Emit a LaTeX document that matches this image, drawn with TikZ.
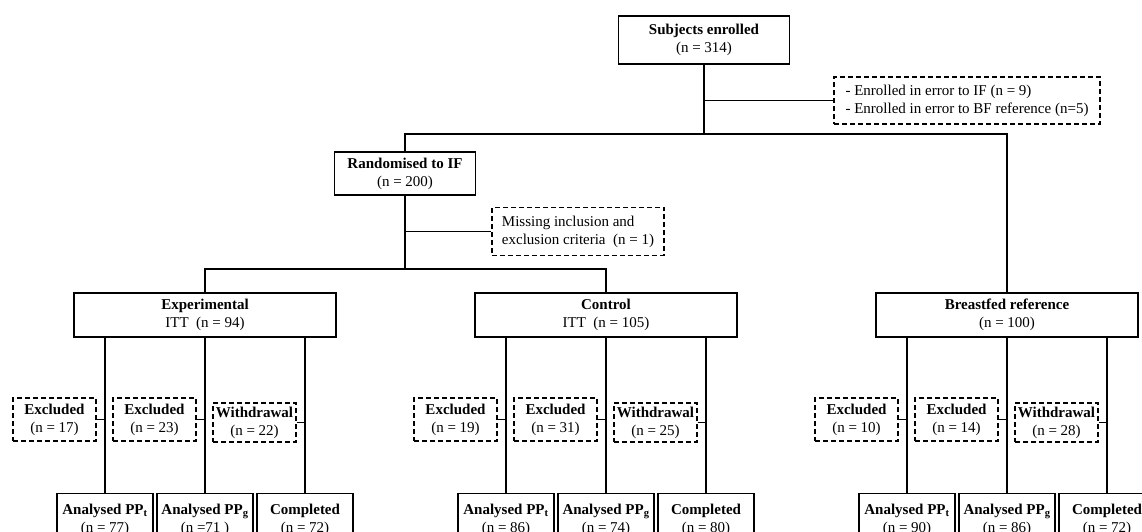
\documentclass[tikz,border=0pt]{standalone}
\usepackage{fontspec}
\setmainfont{Liberation Serif}
\usetikzlibrary{positioning}

\tikzset{
  box/.style={draw, line width=1.3pt, align=center, inner sep=1pt},
  dbox/.style={draw, dashed, dash pattern=on 5pt off 3pt, line width=1.3pt, align=center, inner sep=0pt, minimum width=83pt, minimum height=43pt},
  endbox/.style={box, anchor=north, minimum width=96pt, minimum height=52pt},
  link/.style={line width=1.8pt},
}
\newcommand{\PPt}{PP\textsubscript{t}}
\newcommand{\PPg}{PP\textsubscript{g}}

\begin{document}
\begin{tikzpicture}[x=1pt,y=-1pt,font=\fontsize{15}{18}\selectfont]
\useasboundingbox (0,0) rectangle (1142,531);
\clip (0,0) rectangle (1142,531);
% top of the chart
\node[box, minimum width=171pt, minimum height=48pt] (enrolled) at (704,40) {\textbf{Subjects enrolled}\\(n = 314)};
\node[dbox, align=left, inner sep=6pt, minimum width=266pt, minimum height=47pt] (errors) at (967,100.5) {- Enrolled in error to IF (n = 9)\\- Enrolled in error to BF reference (n=5)};
\node[box, minimum width=141pt, minimum height=43pt] (randomised) at (405,173.5) {\textbf{Randomised to IF}\\(n = 200)};
\node[dbox, align=left, inner sep=8pt, minimum width=172pt, minimum height=45pt] (missing) at (578,231.5) {Missing inclusion and\\exclusion criteria~ (n = 1)};
\coordinate (jtop) at (704,134);
\coordinate (jmid) at (405,269);
\draw[link] (enrolled.south) -- (jtop);
\draw[link] (enrolled.south |- errors.west) -- (errors.west);
\draw[link] (randomised.north) |- (jtop) -| (1007,293);
\draw[link] (randomised.south) -- (jmid);
\draw[link] (randomised.south |- missing.west) -- (missing.west);
% the three groups
\node[box, minimum width=262pt, minimum height=44pt] (exper) at (205,315) {\textbf{Experimental}\\ITT~ (n = 94)};
\node[box, minimum width=262pt, minimum height=44pt] (control) at (606,315) {\textbf{Control}\\ITT~ (n = 105)};
\node[box, minimum width=262pt, minimum height=44pt] (breastfed) at (1007,315) {\textbf{Breastfed reference}\\(n = 100)};
\draw[link] (exper.north) |- (jmid) -| (control.north);
\draw[link] (breastfed.north) -- (breastfed.north |- jtop);
% experimental arm
\node[endbox] (expPPt) at (105,493) {\textbf{Analysed \PPt}\\(n = 77)};
\node[endbox] (expPPg) at (205,493) {\textbf{Analysed \PPg}\\(n =71 )};
\node[endbox] (expComp) at (305,493) {\textbf{Completed}\\(n = 72)};
\node[dbox] (expExcA) at (54.5,419.5) {\textbf{Excluded}\\(n = 17)};
\node[dbox] (expExcB) at (154.5,419.5) {\textbf{Excluded}\\(n = 23)};
\node[dbox, minimum height=39pt] (expWd) at (254.5,422.5) {\textbf{Withdrawal}\\(n = 22)};
\draw[link] (expPPt.north) -- (expPPt.north |- exper.south);
\draw[link] (expPPg.north) -- (expPPg.north |- exper.south);
\draw[link] (expComp.north) -- (expComp.north |- exper.south);
\draw[link] (expExcA.east) -- (expExcA.east -| expPPt.north);
\draw[link] (expExcB.east) -- (expExcB.east -| expPPg.north);
\draw[link] (expWd.east) -- (expWd.east -| expComp.north);
% control arm
\node[endbox] (ctlPPt) at (506,493) {\textbf{Analysed \PPt}\\(n = 86)};
\node[endbox] (ctlPPg) at (606,493) {\textbf{Analysed \PPg}\\(n = 74)};
\node[endbox] (ctlComp) at (706,493) {\textbf{Completed}\\(n = 80)};
\node[dbox] (ctlExcA) at (455.5,419.5) {\textbf{Excluded}\\(n = 19)};
\node[dbox] (ctlExcB) at (555.5,419.5) {\textbf{Excluded}\\(n = 31)};
\node[dbox, minimum height=39pt] (ctlWd) at (655.5,422.5) {\textbf{Withdrawal}\\(n = 25)};
\draw[link] (ctlPPt.north) -- (ctlPPt.north |- control.south);
\draw[link] (ctlPPg.north) -- (ctlPPg.north |- control.south);
\draw[link] (ctlComp.north) -- (ctlComp.north |- control.south);
\draw[link] (ctlExcA.east) -- (ctlExcA.east -| ctlPPt.north);
\draw[link] (ctlExcB.east) -- (ctlExcB.east -| ctlPPg.north);
\draw[link] (ctlWd.east) -- (ctlWd.east -| ctlComp.north);
% breastfed reference
\node[endbox] (bfPPt) at (907,493) {\textbf{Analysed \PPt}\\(n = 90)};
\node[endbox] (bfPPg) at (1007,493) {\textbf{Analysed \PPg}\\(n = 86)};
\node[endbox] (bfComp) at (1107,493) {\textbf{Completed}\\(n = 72)};
\node[dbox] (bfExcA) at (856.5,419.5) {\textbf{Excluded}\\(n = 10)};
\node[dbox] (bfExcB) at (956.5,419.5) {\textbf{Excluded}\\(n = 14)};
\node[dbox, minimum height=39pt] (bfWd) at (1056.5,422.5) {\textbf{Withdrawal}\\(n = 28)};
\draw[link] (bfPPt.north) -- (bfPPt.north |- breastfed.south);
\draw[link] (bfPPg.north) -- (bfPPg.north |- breastfed.south);
\draw[link] (bfComp.north) -- (bfComp.north |- breastfed.south);
\draw[link] (bfExcA.east) -- (bfExcA.east -| bfPPt.north);
\draw[link] (bfExcB.east) -- (bfExcB.east -| bfPPg.north);
\draw[link] (bfWd.east) -- (bfWd.east -| bfComp.north);
\end{tikzpicture}
\end{document}
